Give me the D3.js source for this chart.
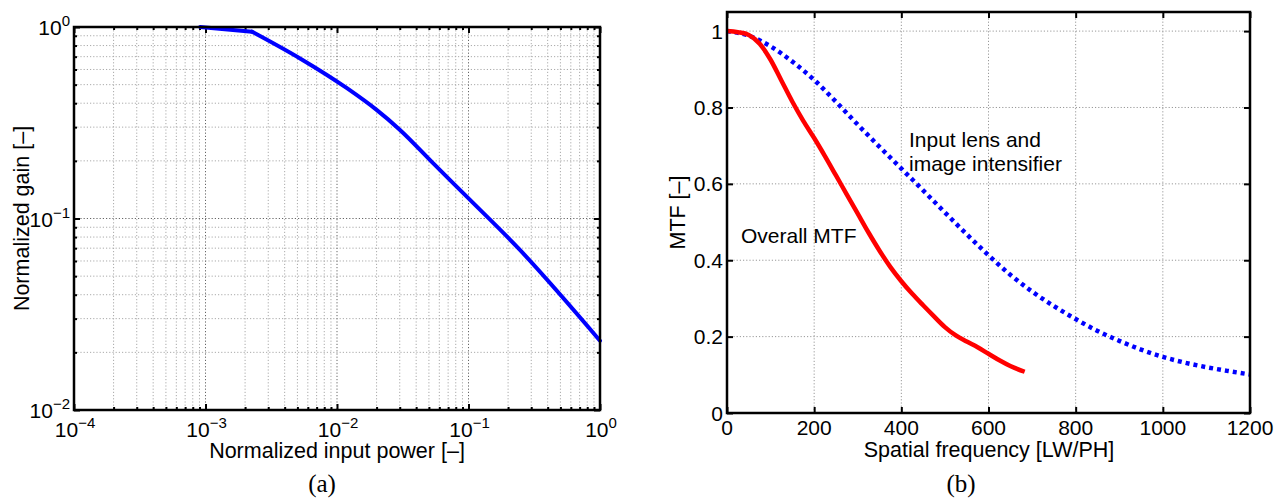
<!DOCTYPE html>
<html lang="en">
<head>
<meta charset="utf-8">
<script src="https://cdn.jsdelivr.net/npm/d3@7"></script>
<style>
  body { margin: 0; background: #fff; }
  svg text { font-family: "Liberation Sans", Arial, sans-serif; fill: #000; }
  .cap { font-family: "Liberation Serif", "DejaVu Serif", serif; }
</style>
</head>
<body>
<svg id="fig" width="1279" height="502"></svg>
<script>

// (a) gain vs input power
var powerX = [0.00091, 0.00226, 0.0052, 0.0119, 0.020, 0.030, 0.054, 0.097, 0.239, 1.0];
var gainY  = [1.0, 0.945, 0.687, 0.479, 0.369, 0.291, 0.194, 0.130, 0.070, 0.023];
var powerTicks = [1e-4, 1e-3, 1e-2, 1e-1, 1];
var powerExps  = ["−4", "−3", "−2", "−1", "0"];
var gainTicks  = [1e-2, 1e-1, 1];
var gainExps   = ["−2", "−1", "0"];

// (b) MTF curves
var freqOverall = [0, 25, 50, 75, 100, 125, 150, 175, 200, 225, 250, 275, 300, 325, 350, 375, 400, 425, 450, 475, 500, 525, 550, 575, 600, 625, 650, 683];
var mtfOverall  = [1.0, 0.997, 0.99, 0.967, 0.925, 0.87, 0.815, 0.765, 0.72, 0.672, 0.622, 0.572, 0.522, 0.472, 0.425, 0.382, 0.345, 0.312, 0.282, 0.253, 0.225, 0.203, 0.187, 0.172, 0.155, 0.138, 0.123, 0.108];
var freqLens = [0, 50, 100, 150, 200, 250, 300, 350, 400, 450, 500, 550, 600, 650, 700, 750, 800, 850, 900, 950, 1000, 1050, 1100, 1150, 1200];
var mtfLens  = [1.0, 0.988, 0.96, 0.92, 0.872, 0.815, 0.755, 0.697, 0.64, 0.583, 0.525, 0.468, 0.413, 0.362, 0.318, 0.28, 0.246, 0.215, 0.189, 0.166, 0.147, 0.132, 0.12, 0.11, 0.101];
var freqTicks = [0, 200, 400, 600, 800, 1000, 1200];
var mtfTicks  = [0, 0.2, 0.4, 0.6, 0.8, 1];

var svg = d3.select("#fig");
var fs = 21;

function gridStyle(sel, col) {
  sel.attr("stroke", col).attr("stroke-width", 1).attr("stroke-dasharray", "1.2,2").attr("fill", "none");
}

function tickAxes(g, x, y, xt, yt, len, w, h) {
  g.append("g").attr("transform", "translate(0," + h + ")")
    .call(d3.axisBottom(x).tickValues(xt).tickSize(-len).tickSizeOuter(0).tickFormat(""));
  g.append("g")
    .call(d3.axisTop(x).tickValues(xt).tickSize(-len).tickSizeOuter(0).tickFormat(""));
  g.append("g")
    .call(d3.axisLeft(y).tickValues(yt).tickSize(-len).tickSizeOuter(0).tickFormat(""));
  g.append("g").attr("transform", "translate(" + w + ",0)")
    .call(d3.axisRight(y).tickValues(yt).tickSize(-len).tickSizeOuter(0).tickFormat(""));
  g.selectAll(".domain").remove();
  g.selectAll(".tick line").attr("stroke", "#000").attr("stroke-width", 2);
}

function powLabel(sel, exp, anchor) {
  sel.attr("text-anchor", anchor).style("font-size", fs + "px");
  sel.append("tspan").text("10");
  sel.append("tspan").attr("dy", -9).style("font-size", "15px").text(exp);
}

// ---------- panel (a) ----------
var a = { left: 74, top: 27, right: 600, bottom: 410 };
var aw = a.right - a.left, ah = a.bottom - a.top;
var ga = svg.append("g").attr("transform", "translate(" + a.left + "," + a.top + ")");

var xa = d3.scaleLog().domain([1e-4, 1]).range([0, aw]);
var ya = d3.scaleLog().domain([1e-2, 1]).range([ah, 0]);

var xMinor = [], yMinor = [];
powerTicks.slice(0, -1).forEach(function(d) {
  for (var k = 2; k < 10; k++) xMinor.push(d * k);
});
gainTicks.slice(0, -1).forEach(function(d) {
  for (var k = 2; k < 10; k++) yMinor.push(d * k);
});

ga.selectAll(".vminor").data(xMinor).enter().append("line")
  .attr("x1", function(d) { return xa(d); }).attr("x2", function(d) { return xa(d); })
  .attr("y1", 0).attr("y2", ah).call(gridStyle, "#aaa");
ga.selectAll(".hminor").data(yMinor).enter().append("line")
  .attr("y1", function(d) { return ya(d); }).attr("y2", function(d) { return ya(d); })
  .attr("x1", 0).attr("x2", aw).call(gridStyle, "#aaa");
ga.selectAll(".vmajor").data(powerTicks.slice(1, -1)).enter().append("line")
  .attr("x1", function(d) { return xa(d); }).attr("x2", function(d) { return xa(d); })
  .attr("y1", 0).attr("y2", ah).call(gridStyle, "#666");
ga.selectAll(".hmajor").data(gainTicks.slice(1, -1)).enter().append("line")
  .attr("y1", function(d) { return ya(d); }).attr("y2", function(d) { return ya(d); })
  .attr("x1", 0).attr("x2", aw).call(gridStyle, "#666");

tickAxes(ga, xa, ya, xMinor, yMinor, 3, aw, ah);
tickAxes(ga, xa, ya, powerTicks, gainTicks, 6, aw, ah);

// flat start is straight, the rest is smooth; keep the knee sharp
var gainLine = function(curve) {
  return d3.line().curve(curve)
    .x(function(i) { return xa(powerX[i]); }).y(function(i) { return ya(gainY[i]); });
};
ga.append("path")
  .datum([0, 1])
  .attr("fill", "none").attr("stroke", "#0000ff").attr("stroke-width", 4)
  .attr("stroke-linecap", "round")
  .attr("d", gainLine(d3.curveLinear));
ga.append("path")
  .datum(d3.range(1, powerX.length))
  .attr("fill", "none").attr("stroke", "#0000ff").attr("stroke-width", 4)
  .attr("stroke-linecap", "round")
  .attr("d", gainLine(d3.curveMonotoneX));

ga.append("rect").attr("width", aw).attr("height", ah)
  .attr("fill", "none").attr("stroke", "#000").attr("stroke-width", 2.5);

powerTicks.forEach(function(d, i) {
  ga.append("text").attr("x", xa(d) + 1).attr("y", ah + 27).call(powLabel, powerExps[i], "middle");
});
gainTicks.forEach(function(d, i) {
  ga.append("text").attr("x", -4).attr("y", ya(d) + 8).call(powLabel, gainExps[i], "end");
});

svg.append("text").attr("x", 337).attr("y", 458).attr("text-anchor", "middle")
  .style("font-size", "21.5px").text("Normalized input power [–]");
svg.append("text").attr("transform", "translate(29," + (a.top + ah / 2) + ") rotate(-90)")
  .attr("text-anchor", "middle").style("font-size", "21.5px").text("Normalized gain [–]");
svg.append("text").attr("class", "cap").attr("x", 322).attr("y", 492).attr("text-anchor", "middle")
  .style("font-size", "25px").text("(a)");

// ---------- panel (b) ----------
var b = { left: 727, top: 12, right: 1250, bottom: 413 };
var bw = b.right - b.left, bh = b.bottom - b.top;
var gb = svg.append("g").attr("transform", "translate(" + b.left + "," + b.top + ")");

var xb = d3.scaleLinear().domain([0, 1200]).range([0, bw]);
var yb = d3.scaleLinear().domain([0, 1.05]).range([bh, 0]);

gb.selectAll(".vgrid").data(freqTicks.slice(1, -1)).enter().append("line")
  .attr("x1", function(d) { return xb(d); }).attr("x2", function(d) { return xb(d); })
  .attr("y1", 0).attr("y2", bh).call(gridStyle, "#999");
gb.selectAll(".hgrid").data(mtfTicks.slice(1)).enter().append("line")
  .attr("y1", function(d) { return yb(d); }).attr("y2", function(d) { return yb(d); })
  .attr("x1", 0).attr("x2", bw).call(gridStyle, "#999");

tickAxes(gb, xb, yb, freqTicks, mtfTicks, 6, bw, bh);

gb.append("path")
  .datum(d3.range(freqLens.length))
  .attr("fill", "none").attr("stroke", "#0000ff").attr("stroke-width", 4.5)
  .attr("stroke-dasharray", "4,4")
  .attr("d", d3.line().curve(d3.curveMonotoneX)
    .x(function(i) { return xb(freqLens[i]); }).y(function(i) { return yb(mtfLens[i]); }));

gb.append("path")
  .datum(d3.range(freqOverall.length))
  .attr("fill", "none").attr("stroke", "#ff0000").attr("stroke-width", 4.5)
  .attr("d", d3.line().curve(d3.curveMonotoneX)
    .x(function(i) { return xb(freqOverall[i]); }).y(function(i) { return yb(mtfOverall[i]); }));

gb.append("rect").attr("width", bw).attr("height", bh)
  .attr("fill", "none").attr("stroke", "#000").attr("stroke-width", 2.5);

gb.selectAll(".xlab").data(freqTicks).enter().append("text")
  .attr("x", function(d) { return xb(d); }).attr("y", bh + 22)
  .attr("text-anchor", "middle").style("font-size", fs + "px")
  .text(function(d) { return d; });
gb.selectAll(".ylab").data(mtfTicks).enter().append("text")
  .attr("x", -4).attr("y", function(d) { return yb(d) + 7.5; })
  .attr("text-anchor", "end").style("font-size", fs + "px")
  .text(function(d) { return d; });

svg.append("text").attr("x", 989).attr("y", 457).attr("text-anchor", "middle")
  .style("font-size", "21.5px").text("Spatial frequency [LW/PH]");
svg.append("text").attr("transform", "translate(685," + (b.top + bh / 2) + ") rotate(-90)")
  .attr("text-anchor", "middle").style("font-size", "21.5px").text("MTF [–]");
svg.append("text").attr("class", "cap").attr("x", 961).attr("y", 492).attr("text-anchor", "middle")
  .style("font-size", "25px").text("(b)");

svg.append("text").attr("x", 909).attr("y", 147).style("font-size", fs + "px").text("Input lens and");
svg.append("text").attr("x", 909).attr("y", 171).style("font-size", fs + "px").text("image intensifier");
svg.append("text").attr("x", 741).attr("y", 243).style("font-size", fs + "px").text("Overall MTF");

</script>
</body>
</html>
